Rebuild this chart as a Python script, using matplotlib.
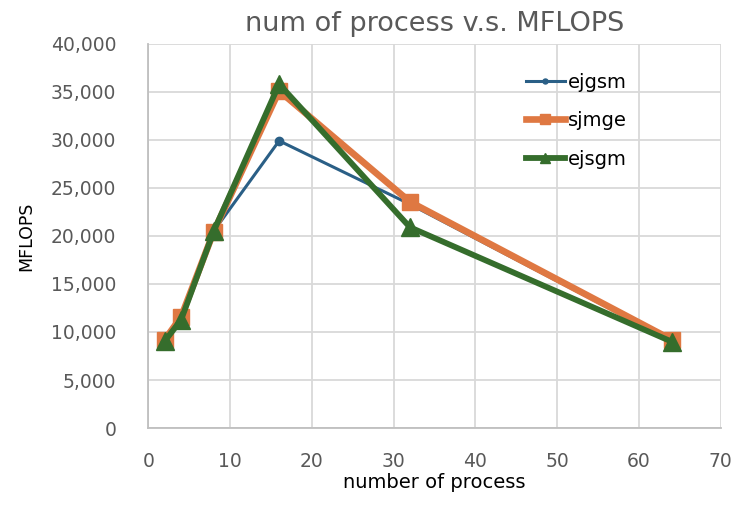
import matplotlib
matplotlib.use("Agg")
import matplotlib.pyplot as plt
from matplotlib.ticker import FuncFormatter

# data
procs = [2, 4, 8, 16, 32, 64]
ejgsm = [9100, 11300, 20500, 29900, 23300, 9100]
sjmge = [9200, 11550, 20450, 35100, 23550, 9200]
ejsgm = [9050, 11250, 20500, 35800, 20900, 9000]

x_ticks = [0, 10, 20, 30, 40, 50, 60, 70]
y_ticks = [0, 5000, 10000, 15000, 20000, 25000, 30000, 35000, 40000]

plt.rcParams['font.family'] = ['DejaVu Sans']

fig = plt.figure(figsize=(7.53, 5.09), dpi=100)
ax = fig.add_axes([0.197, 0.159, 0.760, 0.755])

ax.plot(procs, ejgsm, color='#2a5f86', lw=2.2, marker='o', ms=6, label='ejgsm', zorder=3)
ax.plot(procs, sjmge, color='#df7842', lw=4.8, marker='s', ms=11, label='sjmge', zorder=4)
ax.plot(procs, ejsgm, color='#356d2c', lw=4.2, marker='^', ms=13, label='ejsgm', zorder=5)

ax.set_xlim(0, 70)
ax.set_ylim(0, 40000)
ax.set_xticks(x_ticks)
ax.set_yticks(y_ticks)
ax.yaxis.set_major_formatter(FuncFormatter(lambda v, p: f'{int(v):,}'))
ax.tick_params(length=0, labelsize=13.5, labelcolor='#595959')
ax.tick_params(axis='x', pad=17)
ax.tick_params(axis='y', pad=23)
ax.grid(True, color='#d9d9d9', lw=1.3)
ax.set_axisbelow(True)
for side in ['top', 'right']:
    ax.spines[side].set_visible(False)
for side in ['left', 'bottom']:
    ax.spines[side].set_color('#bfbfbf')
    ax.spines[side].set_linewidth(1.3)

ax.set_title('num of process v.s. MFLOPS', fontsize=19.5, color='#595959', pad=9)
ax.set_xlabel('number of process', fontsize=14, labelpad=2)
ax.set_ylabel('MFLOPS', fontsize=12.5, labelpad=11)

ax.legend(loc='upper right', bbox_to_anchor=(0.866, 0.97), frameon=False,
          fontsize=14, handlelength=2.0, handletextpad=0.15, labelspacing=1.0,
          markerscale=0.6)

fig.savefig('out.png', dpi=100)
